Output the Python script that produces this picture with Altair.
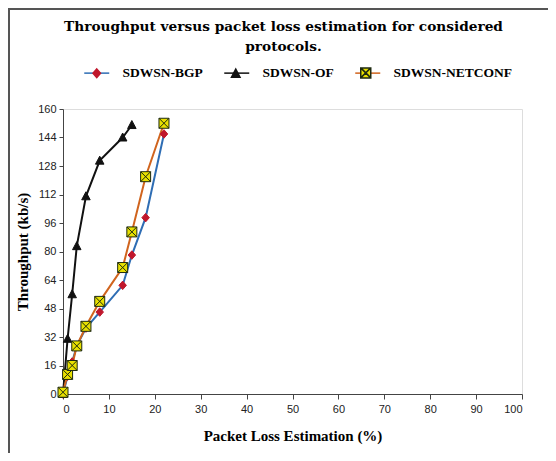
import altair as alt
import pandas as pd

# ---- data ----
x_vals = [0, 1, 2, 3, 5, 8, 13, 15, 18, 22]
x_of = [0, 1, 2, 3, 5, 8, 13, 15]
bgp = [0, 10, 18, 27, 37, 46, 61, 78, 99, 146]
of_ = [0, 31, 56, 83, 111, 131, 144, 151]
netconf = [1, 11, 16, 27, 38, 52, 71, 91, 122, 152]

series_names = ["SDWSN-BGP", "SDWSN-OF", "SDWSN-NETCONF"]
y_ticks = [0, 16, 32, 48, 64, 80, 96, 112, 128, 144, 160]
x_ticks = [0, 10, 20, 30, 40, 50, 60, 70, 80, 90, 100]

rows = []
for name, xs, ys in [(series_names[0], x_vals, bgp),
                     (series_names[1], x_of, of_),
                     (series_names[2], x_vals, netconf)]:
    for i, (xv, yv) in enumerate(zip(xs, ys)):
        rows.append({"series": name, "series2": name + "#", "x": xv, "y": yv, "i": i})
df = pd.DataFrame(rows)
series_names2 = [n + "#" for n in series_names]

line_colors = ["#2E6DB4", "#111111", "#D0641E"]
marker_fill = ["#C0172C", "#111111", "#E8E000"]
marker_stroke = ["#C0172C", "#111111", "#1E2A10"]
marker_shapes = [
    "M0,-0.85L0.75,0L0,0.85L-0.75,0Z",
    "M0,-0.9L0.85,0.7L-0.85,0.7Z",
    "M-1,-1H1V1H-1ZM-1,-1L1,1M1,-1L-1,1",
]

serif = "Liberation Serif"
sans = "Liberation Sans"

axis_common = dict(grid=False, titleFont=serif, titleFontSize=15,
                   titleFontWeight="bold", titleColor="#000000",
                   labelFont=sans, labelFontSize=11, labelColor="#222222",
                   domainColor="#444444", tickColor="#444444", labelOverlap=False)

x_axis = alt.Axis(values=x_ticks, title="Packet Loss Estimation (%)",
                  tickSize=5, labelPadding=4, titlePadding=14, **axis_common)
y_axis = alt.Axis(values=y_ticks, title="Throughput (kb/s)",
                  tickSize=4, labelPadding=3, titlePadding=7, **axis_common)

x_enc = alt.X("x:Q", scale=alt.Scale(domain=[0, 100], nice=False), axis=x_axis)
y_enc = alt.Y("y:Q", scale=alt.Scale(domain=[0, 160], nice=False), axis=y_axis)

legend_common = dict(orient="none", direction="horizontal", title=None,
                     legendX=19, legendY=-43, symbolSize=100, symbolOffset=8,
                     symbolStrokeWidth=1.5,
                     labelOffset=19, columnPadding=18, labelFont=serif,
                     labelFontSize=13.5, labelFontWeight="bold", labelColor="#000000",
                     labelExpr="replace(datum.label, '#', '')")

lines = alt.Chart(df).mark_line(strokeWidth=2).encode(
    x=x_enc, y=y_enc,
    color=alt.Color("series:N",
                    scale=alt.Scale(domain=series_names, range=line_colors),
                    legend=alt.Legend(symbolType="M-2.5,0H2.5", **legend_common)),
    order="i:Q",
)

mk_legend = alt.Legend(labelOpacity=0, symbolOpacity=1, **legend_common)
points = alt.Chart(df).mark_point(filled=True, opacity=1, size=100, strokeWidth=1).encode(
    x=x_enc, y=y_enc,
    shape=alt.Shape("series2:N", scale=alt.Scale(domain=series_names2, range=marker_shapes),
                    legend=mk_legend),
    fill=alt.Fill("series2:N", scale=alt.Scale(domain=series_names2, range=marker_fill),
                  legend=mk_legend),
    stroke=alt.Stroke("series2:N", scale=alt.Scale(domain=series_names2, range=marker_stroke),
                      legend=mk_legend),
)

frame_left = alt.Chart(df).mark_rule(color="#555555", strokeWidth=2, clip=False).encode(
    x=alt.value(-54), y=alt.value(-100), y2=alt.value(344))
frame_top = alt.Chart(df).mark_rule(color="#555555", strokeWidth=2, clip=False).encode(
    y=alt.value(-100), x=alt.value(-55), x2=alt.value(485))

chart = alt.layer(frame_left, frame_top, lines, points).properties(
    width=459, height=285,
    autosize=alt.AutoSizeParams(type="none"),
    padding={"left": 55, "top": 101, "right": 26, "bottom": 59},
    title=alt.Title(["Throughput versus packet loss estimation for considered", "protocols."],
                    font="DejaVu Serif", fontSize=13.7, fontWeight="bold", color="#000000",
                    anchor="middle", dx=-9, offset=-46, lineHeight=20),
).configure_view(stroke=None).configure(background="white")

chart.save("out.html", embed_options={"renderer": "svg", "actions": False})
